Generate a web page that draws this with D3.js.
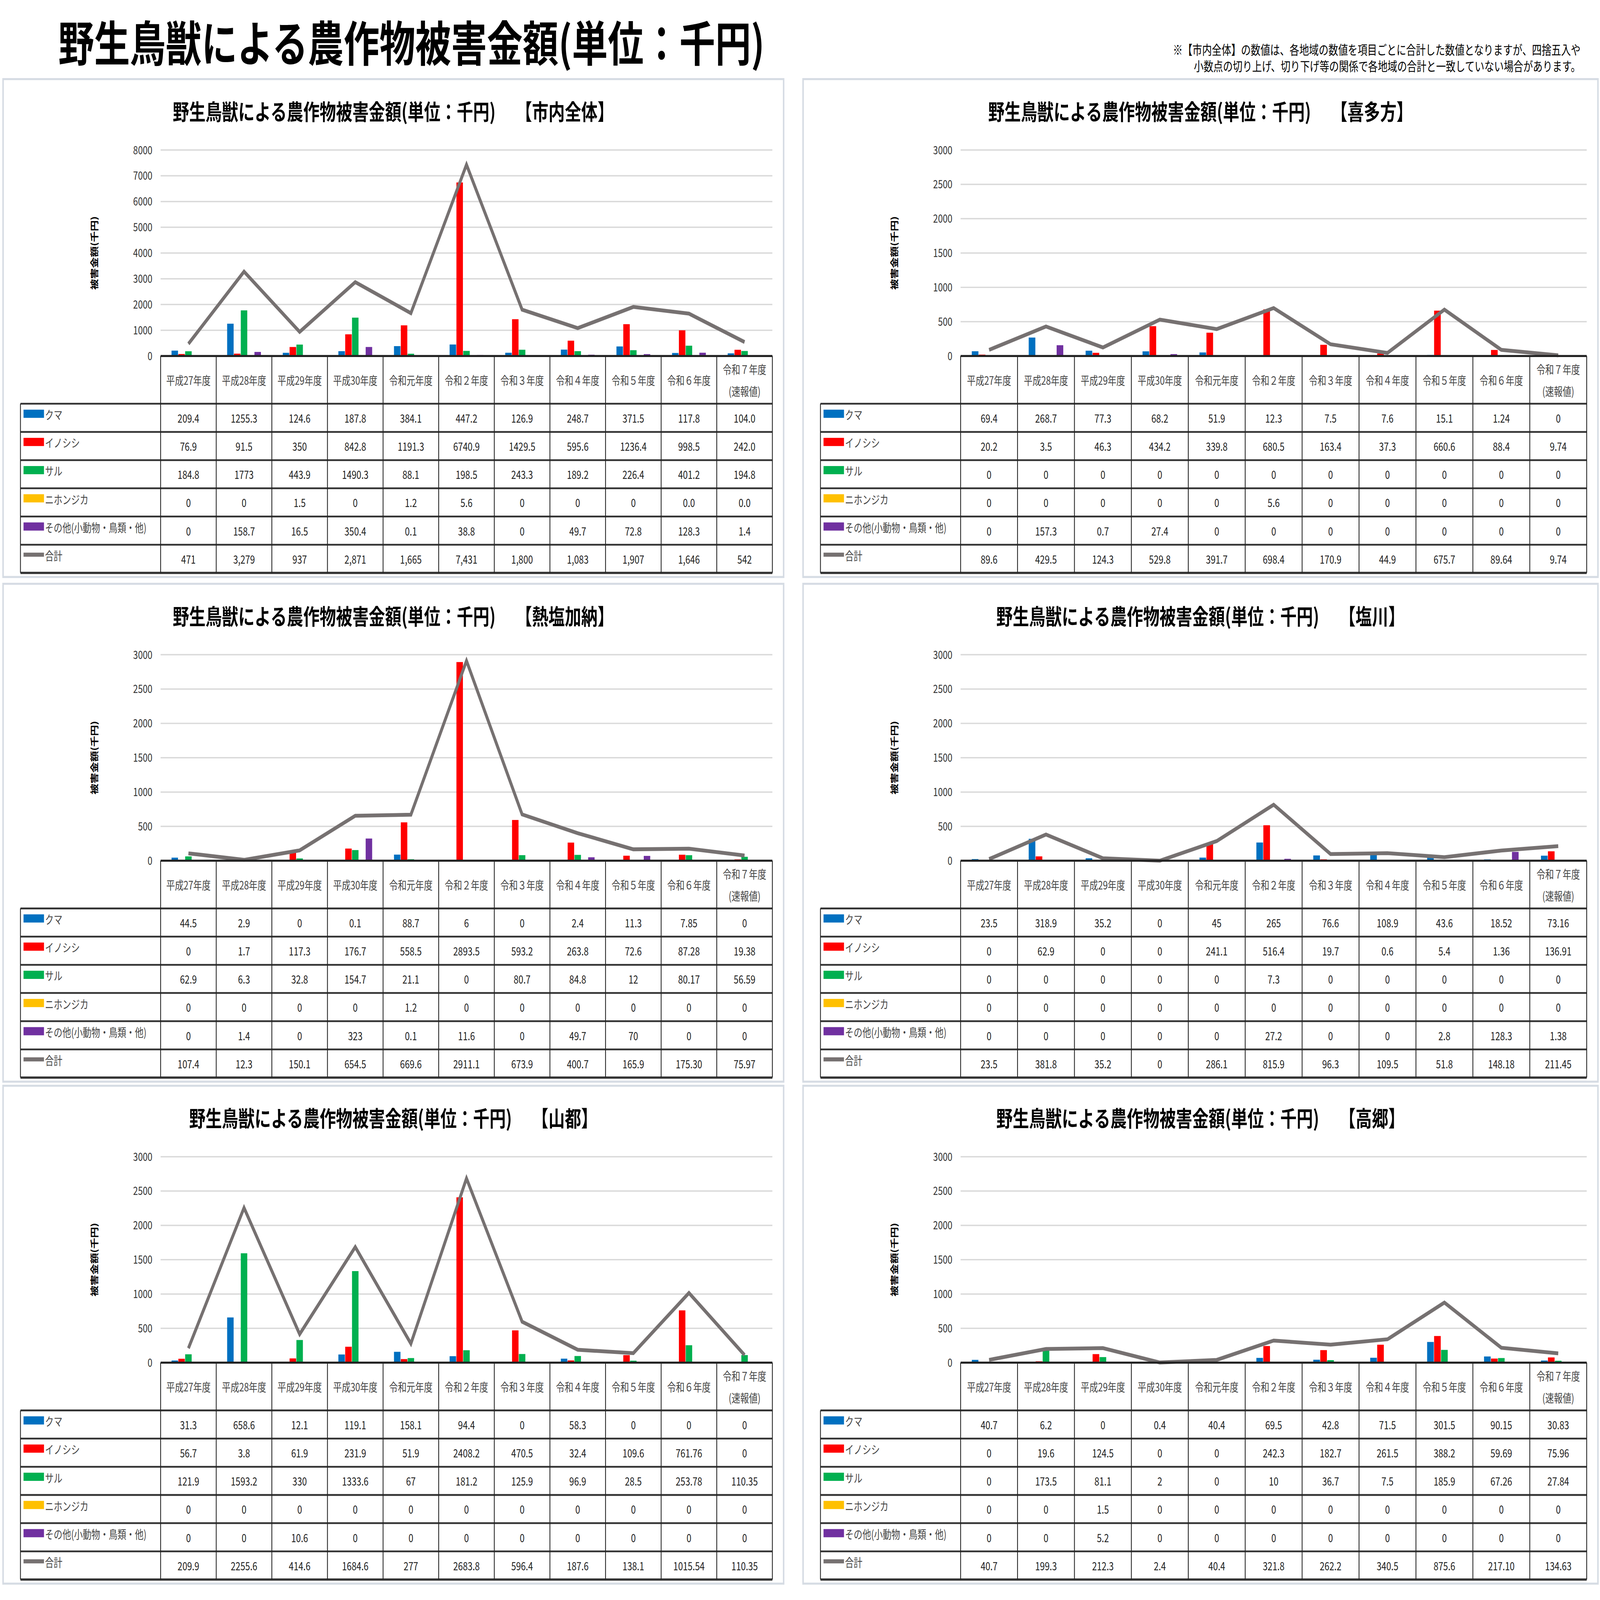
<!DOCTYPE html>
<html>
<head>
<meta charset="utf-8">
<script src="https://cdn.jsdelivr.net/npm/d3@7"></script>
<style>
  html, body { margin: 0; padding: 0; background: #fff; overflow: hidden; }
  svg { display: block; width: 100vw; height: 100vh; }
  text { font-family: "Noto Sans CJK JP", "Noto Sans", sans-serif; }
</style>
</head>
<body>
<div id="chart"></div>
<script>
var years = ["平成27年度","平成28年度","平成29年度","平成30年度","令和元年度","令和２年度","令和３年度","令和４年度","令和５年度","令和６年度","令和７年度"];
var species = ["クマ","イノシシ","サル","ニホンジカ","その他(小動物・鳥類・他)","合計"];
var colors = ["#0070C0","#FF0000","#00B050","#FFC000","#7030A0","#767171"];

// table strings per area (rows follow species order)
var zentai = [
  ["209.4","1255.3","124.6","187.8","384.1","447.2","126.9","248.7","371.5","117.8","104.0"],
  ["76.9","91.5","350","842.8","1191.3","6740.9","1429.5","595.6","1236.4","998.5","242.0"],
  ["184.8","1773","443.9","1490.3","88.1","198.5","243.3","189.2","226.4","401.2","194.8"],
  ["0","0","1.5","0","1.2","5.6","0","0","0","0.0","0.0"],
  ["0","158.7","16.5","350.4","0.1","38.8","0","49.7","72.8","128.3","1.4"],
  ["471","3,279","937","2,871","1,665","7,431","1,800","1,083","1,907","1,646","542"]
];
var kitakata = [
  ["69.4","268.7","77.3","68.2","51.9","12.3","7.5","7.6","15.1","1.24","0"],
  ["20.2","3.5","46.3","434.2","339.8","680.5","163.4","37.3","660.6","88.4","9.74"],
  ["0","0","0","0","0","0","0","0","0","0","0"],
  ["0","0","0","0","0","5.6","0","0","0","0","0"],
  ["0","157.3","0.7","27.4","0","0","0","0","0","0","0"],
  ["89.6","429.5","124.3","529.8","391.7","698.4","170.9","44.9","675.7","89.64","9.74"]
];
var atsushiokano = [
  ["44.5","2.9","0","0.1","88.7","6","0","2.4","11.3","7.85","0"],
  ["0","1.7","117.3","176.7","558.5","2893.5","593.2","263.8","72.6","87.28","19.38"],
  ["62.9","6.3","32.8","154.7","21.1","0","80.7","84.8","12","80.17","56.59"],
  ["0","0","0","0","1.2","0","0","0","0","0","0"],
  ["0","1.4","0","323","0.1","11.6","0","49.7","70","0","0"],
  ["107.4","12.3","150.1","654.5","669.6","2911.1","673.9","400.7","165.9","175.30","75.97"]
];
var shiokawa = [
  ["23.5","318.9","35.2","0","45","265","76.6","108.9","43.6","18.52","73.16"],
  ["0","62.9","0","0","241.1","516.4","19.7","0.6","5.4","1.36","136.91"],
  ["0","0","0","0","0","7.3","0","0","0","0","0"],
  ["0","0","0","0","0","0","0","0","0","0","0"],
  ["0","0","0","0","0","27.2","0","0","2.8","128.3","1.38"],
  ["23.5","381.8","35.2","0","286.1","815.9","96.3","109.5","51.8","148.18","211.45"]
];
var yamato = [
  ["31.3","658.6","12.1","119.1","158.1","94.4","0","58.3","0","0","0"],
  ["56.7","3.8","61.9","231.9","51.9","2408.2","470.5","32.4","109.6","761.76","0"],
  ["121.9","1593.2","330","1333.6","67","181.2","125.9","96.9","28.5","253.78","110.35"],
  ["0","0","0","0","0","0","0","0","0","0","0"],
  ["0","0","10.6","0","0","0","0","0","0","0","0"],
  ["209.9","2255.6","414.6","1684.6","277","2683.8","596.4","187.6","138.1","1015.54","110.35"]
];
var takasato = [
  ["40.7","6.2","0","0.4","40.4","69.5","42.8","71.5","301.5","90.15","30.83"],
  ["0","19.6","124.5","0","0","242.3","182.7","261.5","388.2","59.69","75.96"],
  ["0","173.5","81.1","2","0","10","36.7","7.5","185.9","67.26","27.84"],
  ["0","0","1.5","0","0","0","0","0","0","0","0"],
  ["0","0","5.2","0","0","0","0","0","0","0","0"],
  ["40.7","199.3","212.3","2.4","40.4","321.8","262.2","340.5","875.6","217.10","134.63"]
];

var areas = [
  {name:"【市内全体】", rows:zentai, max:8000, step:1000},
  {name:"【喜多方】", rows:kitakata, max:3000, step:500},
  {name:"【熱塩加納】", rows:atsushiokano, max:3000, step:500},
  {name:"【塩川】", rows:shiokawa, max:3000, step:500},
  {name:"【山都】", rows:yamato, max:3000, step:500},
  {name:"【高郷】", rows:takasato, max:3000, step:500}
];

var W = 1564, H = 1173;
var svg = d3.select("#chart").append("svg")
  .attr("viewBox", [0, 0, W, H])
  .attr("preserveAspectRatio", "none");
svg.append("rect").attr("width", W).attr("height", H).attr("fill", "#fff");

svg.append("text").attr("x", 57).attr("y", 45)
  .attr("font-size", 35).attr("font-weight", "bold")
  .text("野生鳥獣による農作物被害金額(単位：千円)");
svg.append("text").attr("x", 1545).attr("y", 40).attr("text-anchor", "end").attr("font-size", 9.5)
  .text("※【市内全体】の数値は、各地域の数値を項目ごとに合計した数値となりますが、四捨五入や");
svg.append("text").attr("x", 1545).attr("y", 52).attr("text-anchor", "end").attr("font-size", 9.5)
  .text("小数点の切り上げ、切り下げ等の関係で各地域の合計と一致していない場合があります。");

var num = s => +s.replace(/,/g, "");

areas.forEach(function(a, i) {
  var px = i % 2 == 0 ? 3 : 785;
  var pw = i % 2 == 0 ? 763 : 777;
  var py = [58, 428, 796][Math.floor(i / 2)];
  var g = svg.append("g").attr("transform", `translate(${px},${py})`);

  g.append("rect").attr("width", pw).attr("height", 365)
    .attr("fill", "#fff").attr("stroke", "#d6dce4").attr("stroke-width", 1.5);

  g.append("text").attr("x", pw / 2).attr("y", 30).attr("text-anchor", "middle")
    .attr("font-size", 16).attr("font-weight", "bold")
    .text("野生鳥獣による農作物被害金額(単位：千円)　 " + a.name);

  var left = 154, right = pw - 11, top = 52, zero = 203;
  var x = d3.scaleBand().domain(years).range([left, right]);
  var y = d3.scaleLinear().domain([0, a.max]).range([zero, top]);
  var xb = d3.scaleBand().domain(d3.range(5)).range([0, x.bandwidth()]).paddingInner(0.05).paddingOuter(1.6);

  // gridlines + ticks
  var ticks = d3.range(0, a.max + 1, a.step);
  g.append("g").selectAll("line").data(ticks).join("line")
    .attr("x1", left).attr("x2", right).attr("y1", d => y(d)).attr("y2", d => y(d))
    .attr("stroke", "#d9d9d9").attr("stroke-width", 1);
  g.append("g").selectAll("text").data(ticks).join("text")
    .attr("x", left - 8).attr("y", d => y(d) + 3).attr("text-anchor", "end")
    .attr("font-size", 8.5).attr("fill", "#333").text(d => d);

  g.append("text").attr("transform", `translate(${left - 62},${(top + zero) / 2}) rotate(-90)`)
    .attr("text-anchor", "middle").attr("font-size", 8).attr("font-weight", "bold")
    .text("被害金額(千円)");

  // bars
  for (var s = 0; s < 5; s++) {
    g.append("g").selectAll("rect").data(a.rows[s]).join("rect")
      .attr("x", (d, j) => x(years[j]) + xb(s))
      .attr("width", xb.bandwidth())
      .attr("y", d => y(num(d)))
      .attr("height", d => zero - y(num(d)))
      .attr("fill", colors[s]);
  }
  // total line
  var line = d3.line().x((d, j) => x(years[j]) + x.bandwidth() / 2).y(d => y(num(d)));
  g.append("path").datum(a.rows[5]).attr("d", line)
    .attr("fill", "none").attr("stroke", colors[5]).attr("stroke-width", 2.8);

  // table
  var tl = 17, hdrB = 238, rowH = (362 - hdrB) / 6;
  g.append("line").attr("x1", left).attr("x2", right).attr("y1", zero).attr("y2", zero)
    .attr("stroke", "#222").attr("stroke-width", 1.5);
  years.forEach(function(yr, j) {
    var cx = x(yr) + x.bandwidth() / 2;
    if (j == 10) {
      g.append("text").attr("x", cx).attr("y", 216).attr("text-anchor", "middle").attr("font-size", 8.5).attr("fill", "#444").text(yr);
      g.append("text").attr("x", cx).attr("y", 232).attr("text-anchor", "middle").attr("font-size", 8.5).attr("fill", "#444").text("(速報値)");
    } else {
      g.append("text").attr("x", cx).attr("y", 224).attr("text-anchor", "middle").attr("font-size", 8.5).attr("fill", "#444").text(yr);
    }
  });
  d3.range(7).forEach(function(r) {
    g.append("line").attr("x1", tl).attr("x2", right)
      .attr("y1", hdrB + r * rowH).attr("y2", hdrB + r * rowH)
      .attr("stroke", "#333").attr("stroke-width", r == 6 ? 1.6 : 1.3);
  });
  var vx = years.map(yr => x(yr)).concat([right]);
  g.append("g").selectAll("line").data(vx).join("line")
    .attr("x1", d => d).attr("x2", d => d).attr("y1", zero).attr("y2", hdrB + 6 * rowH)
    .attr("stroke", "#222").attr("stroke-width", 0.8);
  g.append("line").attr("x1", tl).attr("x2", tl).attr("y1", hdrB).attr("y2", hdrB + 6 * rowH)
    .attr("stroke", "#222").attr("stroke-width", 0.8);

  species.forEach(function(sp, r) {
    var cy = hdrB + r * rowH + rowH / 2;
    if (r < 5) {
      g.append("rect").attr("x", tl + 3).attr("y", cy - 6).attr("width", 20).attr("height", 6).attr("fill", colors[r]);
    } else {
      g.append("line").attr("x1", tl + 3).attr("x2", tl + 23).attr("y1", cy - 3).attr("y2", cy - 3)
        .attr("stroke", colors[r]).attr("stroke-width", 3);
    }
    g.append("text").attr("x", tl + 24).attr("y", cy + 1).attr("font-size", 8.5).attr("fill", "#444").text(sp);
    g.append("g").selectAll("text").data(a.rows[r]).join("text")
      .attr("x", (d, j) => x(years[j]) + x.bandwidth() / 2)
      .attr("y", cy + 3.5).attr("text-anchor", "middle").attr("font-size", 8.5).attr("fill", "#222")
      .text(d => d);
  });
});
</script>
</body>
</html>
